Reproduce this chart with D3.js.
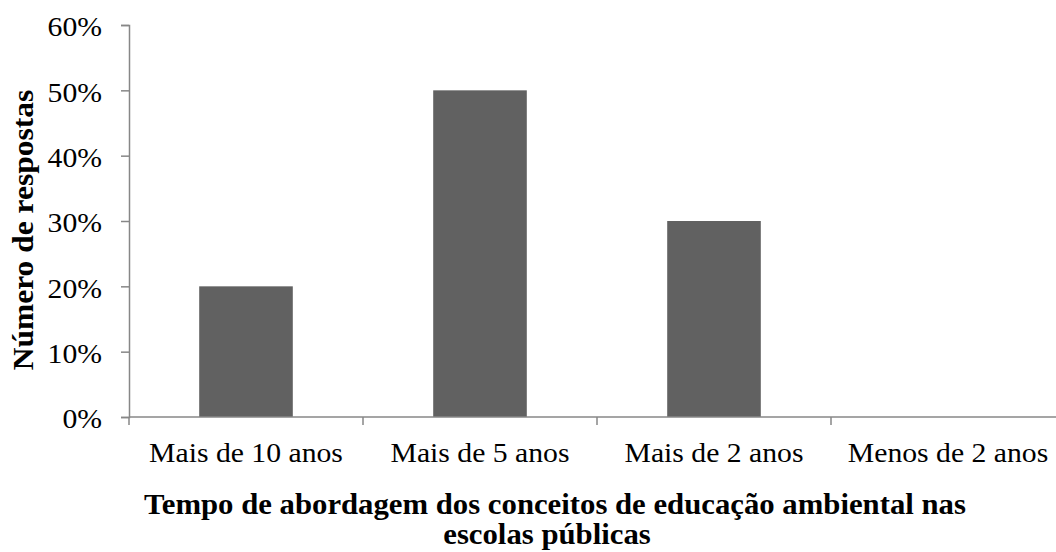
<!DOCTYPE html>
<html>
<head>
<meta charset="utf-8">
<script src="https://cdn.jsdelivr.net/npm/d3@7"></script>
<style>
  body { margin: 0; background: #fff; }
  text { font-family: "Liberation Serif", "Times New Roman", serif; fill: #000; }
</style>
</head>
<body>
<svg class="barchart"></svg>
<script>
// categories and values
var categories = ["Mais de 10 anos", "Mais de 5 anos", "Mais de 2 anos", "Menos de 2 anos"];
var values = [0.20, 0.50, 0.30, 0.00];
var yTicks = [0, 0.1, 0.2, 0.3, 0.4, 0.5, 0.6];
var xTitle = ["Tempo de abordagem dos conceitos de educação ambiental nas", "escolas públicas"];
var yTitle = "Número de respostas";

// plot area (the x axis runs past the right edge)
var margin = {top: 25, right: -9, bottom: 135, left: 129},
	W = 1056, H = 552,
	width = W - margin.left - margin.right,
	height = H - margin.top - margin.bottom,
	stretch = 1.1,
	boldStretch = 1.06,
	axisColor = "#878787";

var svg = d3.select(".barchart")
	.attr("width", W)
	.attr("height", H);

var g = svg.append("g")
	.attr("transform", "translate(" + margin.left + "," + margin.top + ")");

var x = d3.scaleBand().domain(categories).range([0, width]).paddingInner(0.6).paddingOuter(0.3);
var y = d3.scaleLinear().domain([0, 0.6]).range([height, 0]);

// bars
g.selectAll("rect.bar")
	.data(values)
	.enter().append("rect")
	.attr("class", "bar")
	.attr("x", function(d, i) { return x(categories[i]); })
	.attr("y", function(d) { return y(d); })
	.attr("width", x.bandwidth())
	.attr("height", function(d) { return height - y(d); })
	.attr("fill", "#616161");

// y axis
var yAxis = g.append("g")
	.call(d3.axisLeft(y).tickValues(yTicks).tickFormat(d3.format(".0%")).tickSize(8).tickPadding(16.5));
yAxis.select(".domain").attr("stroke", axisColor).attr("stroke-width", 1.5);
yAxis.selectAll(".tick line").attr("stroke", axisColor).attr("stroke-width", 1.5);
yAxis.selectAll(".tick text")
	.attr("dy", "0.4em")
	.attr("transform", "scale(" + stretch + ",1)")
	.style("font-size", "27px")
	.style("fill", "#000");

// x axis, ticks on the category boundaries
var step = x.step();
var xAxis = g.append("g")
	.attr("transform", "translate(0," + height + ")");
xAxis.append("line")
	.attr("x1", 0).attr("x2", width)
	.attr("stroke", axisColor).attr("stroke-width", 1.5);
xAxis.selectAll("line.tick")
	.data(d3.range(categories.length + 1))
	.enter().append("line")
	.attr("class", "tick")
	.attr("x1", function(d) { return d * step; })
	.attr("x2", function(d) { return d * step; })
	.attr("y1", 0).attr("y2", 8)
	.attr("stroke", axisColor).attr("stroke-width", 1.5);
xAxis.selectAll("text.lbl")
	.data(categories)
	.enter().append("text")
	.attr("class", "lbl")
	.attr("transform", function(d) {
		return "translate(" + (x(d) + x.bandwidth() / 2) + ",45) scale(" + stretch + ",1)";
	})
	.attr("text-anchor", "middle")
	.style("font-size", "27px")
	.text(function(d) { return d; });

// axis titles
svg.selectAll("text.xtitle")
	.data(xTitle)
	.enter().append("text")
	.attr("class", "xtitle")
	.attr("transform", function(d, i) {
		return "translate(" + (i === 0 ? 555 : 547) + "," + (514 + i * 30) + ") scale(" + boldStretch + ",1)";
	})
	.attr("text-anchor", "middle")
	.style("font-size", "29px")
	.style("font-weight", "bold")
	.text(function(d) { return d; });

svg.append("text")
	.attr("transform", "translate(33,230) rotate(-90) scale(1.05,1)")
	.attr("text-anchor", "middle")
	.style("font-size", "30px")
	.style("font-weight", "bold")
	.text(yTitle);
</script>
</body>
</html>
